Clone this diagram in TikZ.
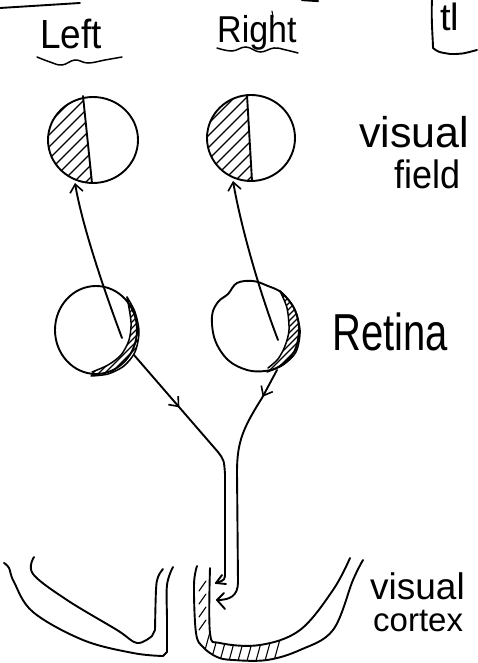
\documentclass[tikz,border=0pt]{standalone}
\usepackage{fontspec}
\setmainfont{Liberation Sans}
\usetikzlibrary{arrows.meta,decorations.markings}
\begin{document}
\begin{tikzpicture}[x=1pt,y=-1pt,
  ink/.style={line width=1.9pt, line cap=round, line join=round},
  fine/.style={line width=1.1pt, line cap=round},
  barb/.style={-{Straight Barb[length=8pt,width=13pt,line width=1.6pt]}},
  midbarb/.style={postaction={decorate},
    decoration={markings, mark=at position #1 with {\arrow{Straight Barb[length=8pt,width=13pt,line width=1.6pt]}}}},
  word/.style={anchor=base west, inner sep=0pt}]
\useasboundingbox (0,0) rectangle (477,663);

% --- fragments along the top edge
\draw[ink] (0,8) -- (80,3);
\draw[ink, line width=2.2pt] (302,0) -- (318,1);
\draw[fine] (272,11) -- (273,17);
\draw[ink] (432,0) .. controls (431,20) and (433,40) .. (433,48)
  .. controls (438,52) .. (450,54) .. controls (462,54) .. (477,50);
\node[word, font=\fontsize{38}{38}\selectfont] (top) at (440,31) {tl};

% --- column headings
\node[word, font=\fontsize{37}{37}\selectfont, yscale=1.1] (left) at (40,49) {Left};
\draw[fine, line width=1.5pt] plot[smooth, tension=0.7] coordinates
  {(37,57) (50,62) (62,65) (75,60) (88,63) (105,60) (122,57)};
\node[word, font=\fontsize{34}{34}\selectfont, yscale=1.1] (right) at (217,43) {Right};
\draw[fine, line width=1.5pt] plot[smooth, tension=0.7] coordinates
  {(217,48) (232,51) (246,47) (260,52) (274,48) (286,50) (298,53)};

% --- visual fields, left half hatched
\coordinate (lvf) at (93,140);
\coordinate (rvf) at (251,138);
\begin{scope}
  \clip (lvf) ellipse [x radius=45, y radius=43];
  \clip (83,96) -- (92,184) -- (40,184) -- (40,96) -- cycle;
  \foreach \c in {136,148,...,280} \draw[fine] (\c-190,190) -- (\c-90,90);
\end{scope}
\draw[ink] (lvf) ellipse [x radius=45, y radius=43];
\draw[ink] (83,96) -- (92,183);
\begin{scope}
  \clip (rvf) ellipse [x radius=44, y radius=43];
  \clip (247,94) -- (252,182) -- (200,182) -- (200,94) -- cycle;
  \foreach \c in {296,308,...,440} \draw[fine] (\c-190,190) -- (\c-90,90);
\end{scope}
\draw[ink] (rvf) ellipse [x radius=44, y radius=43];
\draw[ink] (247,95) -- (252,181);

\node[word, font=\fontsize{43}{43}\selectfont] (vis1) at (359,148) {visual};
\node[word, font=\fontsize{36}{36}\selectfont, yscale=1.1] (fld) at (394,188) {field};

% --- retinas
\coordinate (lret) at (96,330);
\draw[ink] (lret) ellipse [x radius=41, y radius=44];
\begin{scope}
  \clip plot[smooth] coordinates {(127,297) (135,312) (139,332) (135,352) (124,366) (108,374) (91,376)}
    -- plot[smooth] coordinates {(92,372) (108,365) (121,355) (129,340) (131,322) (127,297)} -- cycle;
  \foreach \c in {400,406,...,520} \draw[fine] (\c-390,390) -- (\c-280,280);
\end{scope}
\draw[fine, line width=1.5pt] plot[smooth] coordinates {(127,297) (135,312) (139,332) (135,352) (124,366) (108,374) (91,376)};
\draw[fine, line width=1.5pt] plot[smooth] coordinates {(92,372) (108,365) (121,355) (129,340) (131,322) (127,297)};

\coordinate (rret) at (256,326);
\draw[ink] plot[smooth cycle, tension=0.6] coordinates
  {(228,294) (237,283) (253,281) (268,286) (282,293) (295,310) (299,330) (294,352)
   (280,366) (265,371) (247,370) (228,360) (215,340) (212,316) (218,302)};
\begin{scope}
  \clip plot[smooth] coordinates {(280,291) (293,306) (300,330) (296,352) (283,365) (267,372)}
    -- plot[smooth] coordinates {(268,368) (278,359) (285,346) (289,330) (287,308) (280,291)} -- cycle;
  \foreach \c in {550,556,...,690} \draw[fine] (\c-390,390) -- (\c-280,280);
\end{scope}
\draw[fine, line width=1.5pt] plot[smooth] coordinates {(280,291) (293,306) (300,330) (296,352) (283,365) (267,372)};
\draw[fine, line width=1.5pt] plot[smooth] coordinates {(268,368) (278,359) (285,346) (289,330) (287,308) (280,291)};

\node[word, font=\fontsize{40}{40}\selectfont, yscale=1.3] (ret) at (332,350) {Retina};

% --- pathways from the retinas to the visual fields
\coordinate (lr-in) at (122,338);
\coordinate (lvf-b) at (75,183);
\coordinate (rr-in) at (278,340);
\coordinate (rvf-b) at (233,181);
\draw[ink, barb] (lr-in) .. controls (104,290) and (82,225) .. (lvf-b);
\draw[ink, barb] (rr-in) .. controls (258,288) and (240,222) .. (rvf-b);

% --- pathways from the retinas down to the cortex
\coordinate (lr-out) at (134,355);
\coordinate (rr-out) at (277,370);
\coordinate (lc-tip) at (216,583);
\coordinate (rc-tip) at (217,600);
\draw[ink, midbarb=0.26] (lr-out) -- (218,452) .. controls (224,460) .. (225,474)
  -- (225,572) .. controls (225,580) .. (lc-tip);
\draw[ink] (lc-tip) -- ++(6,-8);
\draw[ink] (lc-tip) -- ++(10,1);
\draw[ink, midbarb=0.12] (rr-out) -- (262,398) .. controls (243,428) and (237,442) .. (237,472)
  -- (238,582) .. controls (238,596) and (230,600) .. (rc-tip);
\draw[ink] (rc-tip) -- ++(7,-7);
\draw[ink] (rc-tip) -- ++(8,9);

% --- visual cortex, left hemisphere
\draw[ink] plot[smooth, tension=0.6] coordinates
  {(4,563) (9,568) (14,582) (33,612) (83,640) (133,653) (163,656)}
  -- plot[smooth, tension=0.6] coordinates {(167,652) (167,620) (167,585) (173,567)};
\draw[ink] plot[smooth, tension=0.6] coordinates
  {(34,557) (33,574) (67,600) (117,630) (137,643) (152,636)}
  -- plot[smooth, tension=0.6] coordinates {(155,630) (156,590) (158,577) (163,569)};

% --- visual cortex, right hemisphere with hatched band
\begin{scope}
  \clip plot[smooth, tension=0.6] coordinates
    {(196,567) (194,585) (196,633) (203,647) (217,657) (233,660) (267,660) (300,650) (333,630) (353,580) (363,560)}
    -- plot[smooth, tension=0.6] coordinates
    {(350,560) (333,590) (300,630) (260,645) (220,643) (210,633) (210,568)} -- cycle;
  \foreach \y in {585,598,611,624} \draw[fine] (199,\y+6) -- (206,\y-4);
  \foreach \x in {200,209,...,280} \draw[fine] (\x,668) -- (\x+10,632);
\end{scope}
\draw[ink] plot[smooth, tension=0.6] coordinates
  {(197,566) (194,585) (196,633) (203,647) (217,657) (233,660) (267,660) (300,650) (333,630) (353,580) (363,560)};
\draw[ink] plot[smooth, tension=0.6] coordinates
  {(210,568) (210,633) (220,643) (260,645) (300,630) (333,590) (350,558)};

\node[word, font=\fontsize{37}{37}\selectfont] (vis2) at (370,599) {visual};
\node[word, font=\fontsize{33}{33}\selectfont] (ctx) at (373,631) {cortex};
\end{tikzpicture}
\end{document}
